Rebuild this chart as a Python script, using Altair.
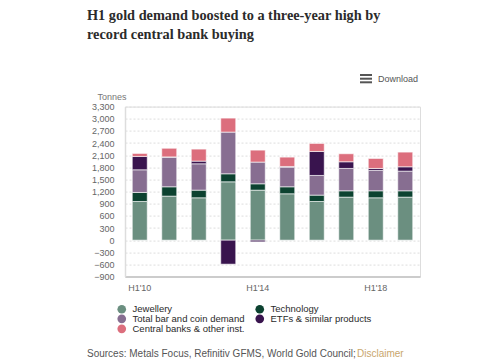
import altair as alt
import pandas as pd

periods = ["H1'10", "H1'11", "H1'12", "H1'13", "H1'14", "H1'15", "H1'16", "H1'17", "H1'18", "H1'19"]
categories = ["Jewellery", "Technology", "Total bar and coin demand",
              "ETFs & similar products", "Central banks & other inst."]
colors = ["#6b8f80", "#0c4230", "#876e91", "#39144e", "#dc6e7d"]

jewellery = [956, 1088, 1047, 1442, 1236, 1146, 956, 1063, 1047, 1063]
technology = [223, 231, 189, 198, 157, 173, 157, 157, 173, 157]
bar_coin = [560, 733, 651, 1030, 536, 478, 486, 552, 503, 486]
etfs = [330, 5, 66, -593, -41, 24, 593, 165, 49, 107]
central_banks = [74, 214, 297, 346, 296, 231, 198, 198, 247, 363]

y_ticks = list(range(-900, 3301, 300))
x_labels = ["H1'10", "H1'14", "H1'18"]

series = [jewellery, technology, bar_coin, etfs, central_banks]
rows = []
for ci, (cat, vals) in enumerate(zip(categories, series)):
    for p, v in zip(periods, vals):
        rows.append({"period": p, "category": cat, "value": v, "order": ci})
df = pd.DataFrame(rows)

LABEL_FONT = "Liberation Sans"

bars = alt.Chart(df).mark_bar(size=15, stroke="white", strokeOpacity=0.6, strokeWidth=1).encode(
    x=alt.X("period:N", sort=periods, title=None,
            scale=alt.Scale(paddingInner=0, paddingOuter=0),
            axis=alt.Axis(values=x_labels, labelAngle=0, ticks=False, grid=False,
                          domainColor="#cccccc", domainWidth=2,
                          labelFont=LABEL_FONT, labelFontSize=9, labelColor="#666666",
                          labelPadding=7)),
    y=alt.Y("value:Q", stack="zero",
            scale=alt.Scale(domain=[-900, 3300], nice=False, zero=False),
            axis=alt.Axis(values=y_ticks, format=",.0f", ticks=False,
                          domainColor="#dddddd", domainWidth=1.5,
                          grid=True, gridColor="#dddddd", gridDash=[2, 2], gridWidth=1,
                          labelFont=LABEL_FONT, labelFontSize=9, labelColor="#666666",
                          labelPadding=11,
                          title="Tonnes", titleAngle=0, titleX=-28, titleY=-10,
                          titleAlign="left", titleBaseline="middle",
                          titleFont=LABEL_FONT, titleFontSize=9, titleColor="#777777",
                          titleFontWeight="normal")),
    color=alt.Color("category:N",
                    scale=alt.Scale(domain=categories, range=colors),
                    legend=alt.Legend(title=None, orient="none", legendX=-8, legendY=197.5,
                                      columns=2, direction="horizontal",
                                      symbolType="circle", symbolSize=75,
                                      symbolStrokeWidth=0, columnPadding=10,
                                      rowPadding=-1.5, labelOffset=6, padding=0,
                                      labelFont=LABEL_FONT, labelFontSize=9.5,
                                      labelColor="#2a2a2a", labelLimit=300)),
    order=alt.Order("order:Q"),
)

blank = alt.Data(values=[{}])

def text(x, y, s, **kw):
    return alt.Chart(blank).mark_text(align="left", **kw).encode(
        x=alt.value(x), y=alt.value(y), text=alt.value(s))

title1 = text(-38, -86.6, "H1 gold demand boosted to a three-year high by",
              font="Liberation Serif", fontSize=14.3, fontWeight="bold", color="#2b2b2b",
              baseline="alphabetic")
title2 = text(-38, -67.6, "record central bank buying",
              font="Liberation Serif", fontSize=14.3, fontWeight="bold", color="#2b2b2b",
              baseline="alphabetic")

icon_lines = [
    alt.Chart(blank).mark_rule(color="#555555", strokeWidth=2).encode(
        x=alt.value(235), x2=alt.value(247), y=alt.value(yy))
    for yy in (-31.6, -27.9, -24.3)
]
download = text(253, -27.6, "Download", font=LABEL_FONT, fontSize=9,
                color="#555555", baseline="middle")
sources = text(-38, 247.4, "Sources: Metals Focus, Refinitiv GFMS, World Gold Council;",
               font=LABEL_FONT, fontSize=10, color="#555555", baseline="middle")
disclaimer = text(232, 247.4, "Disclaimer", font=LABEL_FONT, fontSize=10,
                  color="#c9a66b", baseline="middle")

chart = alt.layer(bars, title1, title2, *icon_lines, download, sources, disclaimer).properties(
    width=295, height=170,
    autosize=alt.AutoSizeParams(type="none"),
    padding={"left": 117, "top": 98.6, "right": 72, "bottom": 83.4},
).configure_view(stroke=None).configure(background="white")

chart.save("out.html", embed_options={"renderer": "svg", "actions": False})
